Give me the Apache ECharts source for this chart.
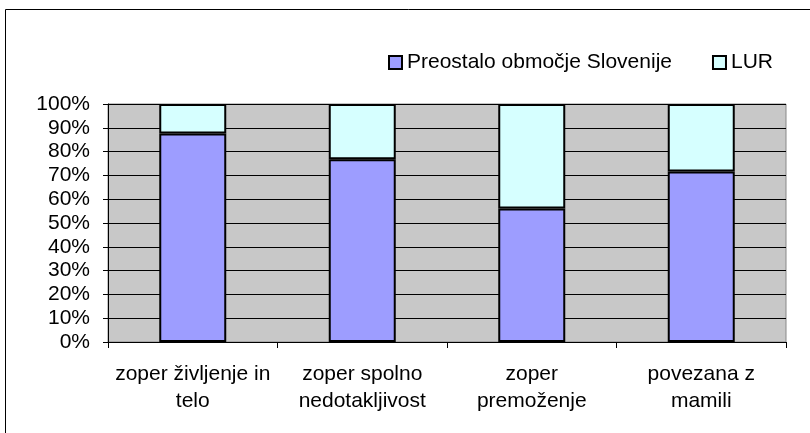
<!DOCTYPE html>
<html>
<head>
<meta charset="utf-8">
<script src="https://cdn.jsdelivr.net/npm/echarts@6/dist/echarts.min.js"></script>
<style>
  html, body { margin: 0; padding: 0; background: #fff; }
  #chart { width: 810px; height: 433px; }
</style>
</head>
<body>
<div id="chart"></div>
<script>
var categories = ['zoper življenje in\ntelo', 'zoper spolno\nnedotakljivost', 'zoper\npremoženje', 'povezana z\nmamili'];
var seriesNames = ['Preostalo območje Slovenije', 'LUR'];
var ostaloValues = [87.6, 76.8, 56.1, 71.6];
var lurValues = [12.4, 23.2, 43.9, 28.4];

var chart = echarts.init(document.getElementById('chart'));

var font = 'Liberation Sans, Arial, sans-serif';

var option = {
    animation: false,
    textStyle: { fontFamily: font },
    graphic: [{
        type: 'rect',
        shape: { x: 5.5, y: 9.5, width: 900, height: 600 },
        style: { fill: 'none', stroke: '#000', lineWidth: 1 },
        silent: true
    }],
    legend: {
        left: 383,
        top: 47,
        itemWidth: 13,
        itemHeight: 13,
        itemGap: 40,
        icon: 'rect',
        data: seriesNames,
        textStyle: { fontSize: 21, color: '#000', fontFamily: font }
    },
    grid: {
        left: 108,
        right: 24,
        top: 104,
        bottom: 91,
        show: true,
        backgroundColor: '#C8C8C8',
        borderColor: '#888',
        borderWidth: 1
    },
    xAxis: {
        type: 'category',
        data: categories,
        axisLine: { lineStyle: { color: '#000', width: 1 } },
        axisTick: { show: true, length: 6, inside: false, lineStyle: { color: '#000' } },
        axisLabel: {
            margin: 19,
            fontSize: 21,
            color: '#000',
            lineHeight: 27,
            fontFamily: font,
            interval: 0
        }
    },
    yAxis: {
        type: 'value',
        min: 0,
        max: 100,
        interval: 10,
        axisLine: { show: true, lineStyle: { color: '#000', width: 1 } },
        axisTick: { show: true, length: 5, lineStyle: { color: '#000' } },
        splitLine: { show: true, lineStyle: { color: '#000', width: 1 } },
        axisLabel: {
            formatter: '{value}%',
            margin: 18,
            fontSize: 21,
            color: '#000',
            fontFamily: font
        }
    },
    series: [{
        name: seriesNames[0],
        type: 'bar',
        stack: 'total',
        barWidth: 67,
        data: ostaloValues,
        itemStyle: { color: '#9D9DFF', borderColor: '#000', borderWidth: 2 }
    }, {
        name: seriesNames[1],
        type: 'bar',
        stack: 'total',
        barWidth: 67,
        data: lurValues,
        itemStyle: { color: '#D6FFFF', borderColor: '#000', borderWidth: 2 }
    }]
};

chart.setOption(option);
</script>
</body>
</html>
